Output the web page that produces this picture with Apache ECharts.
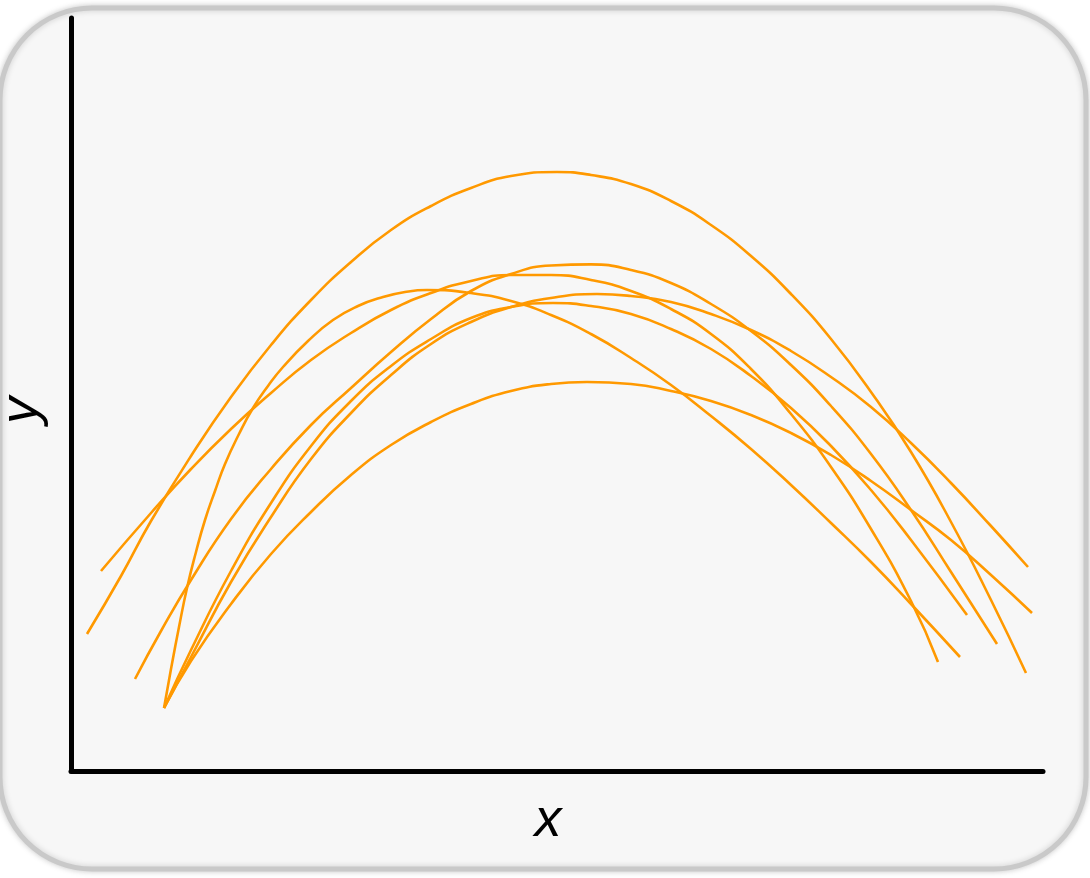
<!DOCTYPE html>
<html>
<head>
<meta charset="utf-8">
<script src="https://cdn.jsdelivr.net/npm/echarts@6/dist/echarts.min.js"></script>
<style>
html,body{margin:0;padding:0;background:#ffffff;}
#chart{width:1090px;height:878px;}
</style>
</head>
<body>
<div id="chart"></div>
<script>
// Curves as [x, y] pairs (arbitrary units)
const curveT = [[1.6,13.7],[5,19.5],[8,25.0],[12,31.5],[16,37.4],[20,42.6],[24,47.1],[28,50.9],[32,54.1],[36,56.5],[40,58.3],[44,59.5],[48.6,59.9],[52,59.6],[56,58.7],[60,57.0],[64,54.6],[68,51.5],[72,47.7],[76,43.2],[80,37.9],[84,31.9],[88,24.9],[92,17.1],[95.5,9.8]];
const curveS = [[9.3,6.3],[10.0,10.2],[10.8,14.4],[11.6,18.3],[12.5,21.9],[13.4,25.1],[14.4,28.0],[15.4,30.7],[16.8,33.7],[18.2,36.3],[19.7,38.5],[21.2,40.4],[23.7,43.0],[26.2,45.1],[28.7,46.5],[31.2,47.4],[33.4,47.9],[35.6,48.1],[40,47.8],[44,47.0],[48,45.6],[52,43.7],[56,41.3],[60,38.6],[64,35.5],[68,32.2],[72,28.6],[76,24.8],[80,20.9],[84,16.7],[88.9,11.4]];
const curveL = [[9.3,6.3],[12,11.0],[16,16.7],[20,21.7],[24,25.9],[28,29.6],[32,32.6],[36,34.9],[40,36.7],[44,38.0],[48,38.7],[51.6,38.9],[56,38.7],[60,38.0],[64,37.0],[68,35.6],[72,33.8],[76,31.6],[80,29.0],[84,26.1],[88,23.1],[92,19.6],[96.1,15.8]];
const curveA = [[3.0,20.0],[8,25.8],[12,30.2],[16,34.2],[20,37.8],[24,41.1],[28,43.8],[32,46.1],[36,47.8],[40,49.0],[44,49.6],[48,49.6],[52,49.1],[56,48.0],[60,46.2],[64,43.7],[68,40.2],[72,35.7],[76,30.4],[80,24.2],[84,17.0],[86.7,10.9]];
const curveC = [[6.4,9.2],[9,14.0],[12,19.1],[16,25.2],[20,30.2],[24,34.6],[28,38.3],[32,41.9],[36,45.2],[40,48.0],[44,49.7],[48,50.55],[52,50.66],[56,50.1],[60,48.8],[64,46.7],[68,44.0],[72,40.6],[76,36.5],[80,31.7],[84,26.1],[88,19.9],[92.6,12.7]];
const curveX = [[9.3,6.3],[12,12.1],[16,20.0],[20,26.8],[24,32.5],[28,37.0],[32,40.5],[36,43.2],[40,45.3],[44,46.4],[48.2,46.8],[52,46.5],[56,45.7],[60,44.2],[64,42.2],[68,39.5],[72,36.3],[76,32.5],[80,28.1],[84,23.1],[89.6,15.6]];
const curveY = [[9.3,6.3],[12,11.4],[16,18.9],[20,25.4],[24,31.2],[28,35.8],[32,39.6],[36,42.7],[40,44.9],[44,46.4],[48,47.3],[52.6,47.7],[56,47.5],[60,46.9],[64,45.7],[68,44.1],[72,42.0],[76,39.4],[80,36.4],[84,32.8],[88,28.8],[92,24.5],[95.7,20.4]];

const xName = 'x';
const yName = 'y';
const curves = [curveT, curveS, curveL, curveA, curveC, curveX, curveY];

const chart = echarts.init(document.getElementById('chart'), null, {renderer: 'canvas'});
const option = {
  backgroundColor: '#ffffff',
  animation: false,
  graphic: [{
    type: 'rect',
    z: -10,
    shape: {x: 0, y: 8, width: 1086, height: 861, r: 92},
    style: {fill: '#f7f7f7', stroke: '#c9c9c9', lineWidth: 5, shadowBlur: 6, shadowColor: 'rgba(0,0,0,0.18)'}
  }],
  grid: {left: 71, right: 47, top: 18, bottom: 107, containLabel: false, outerBoundsMode: 'none'},
  xAxis: {
    type: 'value', min: 0, max: 97.2,
    name: xName, nameLocation: 'middle', nameGap: 23,
    nameTextStyle: {fontFamily: 'Liberation Sans', fontStyle: 'italic', fontSize: 54, color: '#000', verticalAlign: 'top', padding: [0, 18, 0, 0]},
    axisLine: {show: true, lineStyle: {color: '#000', width: 5}},
    axisTick: {show: false}, axisLabel: {show: false}, splitLine: {show: false}
  },
  yAxis: {
    type: 'value', min: 0, max: 75.3,
    name: yName, nameLocation: 'middle', nameGap: 22, nameRotate: 90,
    nameTextStyle: {fontFamily: 'Liberation Sans', fontStyle: 'italic', fontSize: 54, color: '#000', padding: [0, 32, 0, 0]},
    axisLine: {show: true, lineStyle: {color: '#000', width: 5}},
    axisTick: {show: false}, axisLabel: {show: false}, splitLine: {show: false}
  },
  series: curves.map(c => ({
    type: 'line', data: c, smooth: 0.5, showSymbol: false, symbol: 'none',
    lineStyle: {color: '#ff9900', width: 2.6}
  }))
};
chart.setOption(option);
</script>
</body>
</html>
